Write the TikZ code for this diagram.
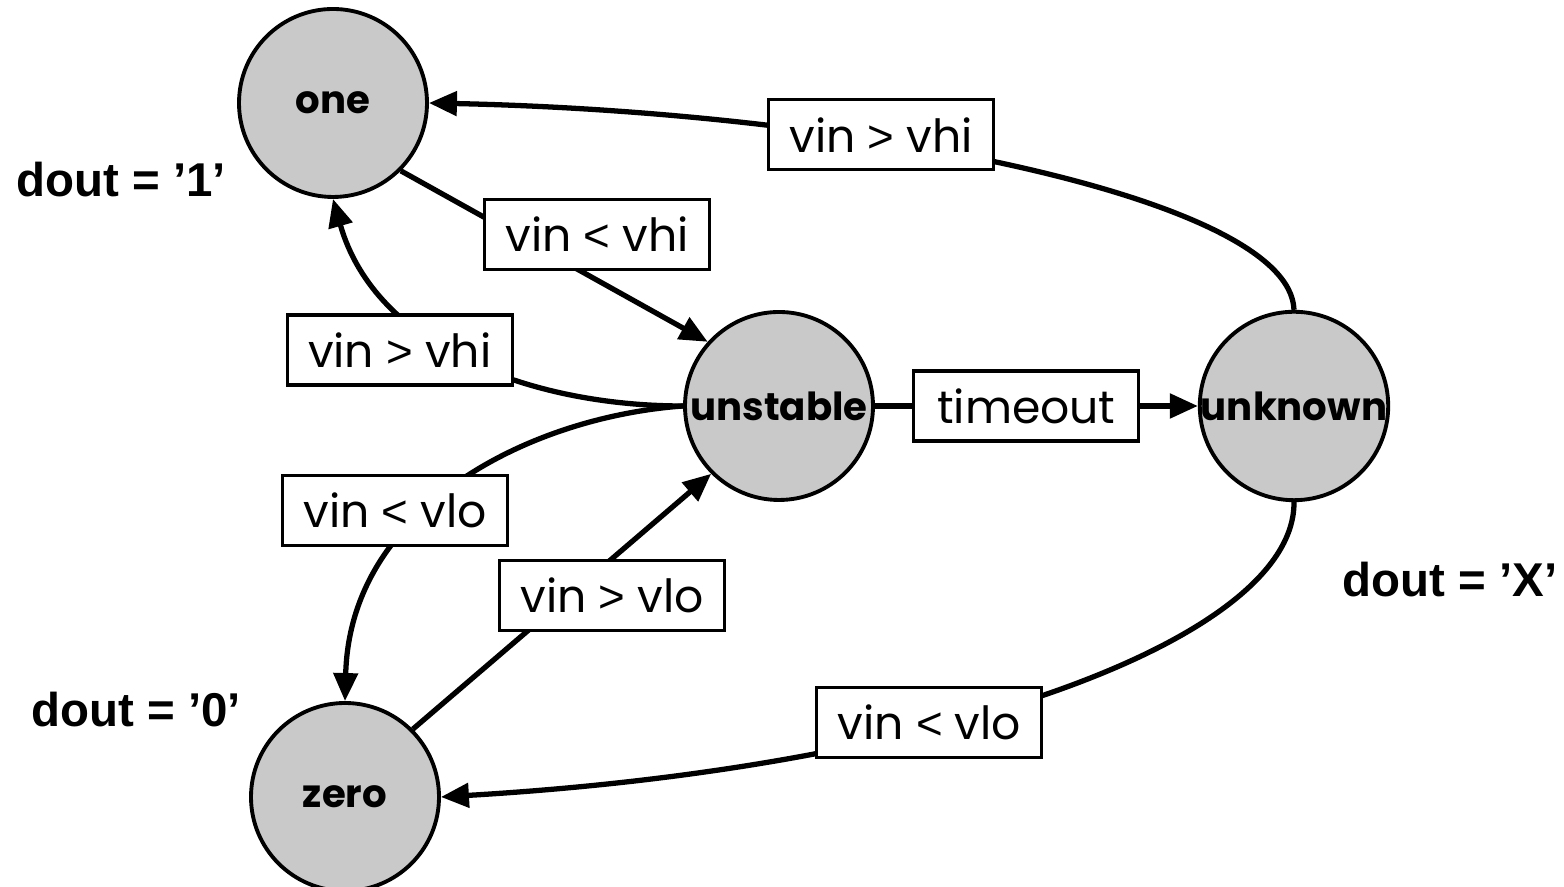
\documentclass[tikz,border=0pt]{standalone}
\usepackage{fontspec}
\setmainfont{Poppins}
\newfontfamily\doutfont{Liberation Sans}
\newcommand{\cmpgt}{{\doutfont >}}
\newcommand{\cmplt}{{\doutfont <}}
\usepackage{tikz}
\usetikzlibrary{positioning, arrows.meta}
\definecolor{stategrey}{HTML}{C9C9C9}

\begin{document}
\begin{tikzpicture}[
    state/.style={circle, draw, line width=1.1pt, fill=stategrey,
                  minimum size=1.88cm, inner sep=0pt,
                  font=\fontsize{11}{13}\selectfont\bfseries},
    cond/.style={rectangle, draw, line width=0.9pt, fill=white,
                 minimum width=2.25cm, minimum height=0.7cm,
                 font=\fontsize{13}{15}\selectfont},
    outlbl/.style={font=\doutfont\fontsize{13.5}{15}\selectfont\bfseries},
    arrow/.style={-{Triangle[length=0.28cm, width=0.24cm]}, line width=1.5pt},
]
\useasboundingbox (0,0) rectangle (15.64,8.87);

% ============== states ==============
\node[state] (one) at (3.33,7.84) {one};
\node[state] (unstable) at (7.79,4.81) {unstable};
\node[state] (unknown) at (12.94,4.81) {unknown};
\node[state] (zero) at (3.45,0.90) {zero};

% ============== outputs ==============
\node[outlbl] (dout1) at (1.21,7.07) {dout = ’1’};
\node[outlbl] (dout0) at (1.36,1.77) {dout = ’0’};
\node[outlbl] (doutX) at (14.50,3.07) {dout = ’X’};

% ============== transitions ==============
\draw[arrow] (unknown.north) .. controls (12.9,6.9) and (8.5,7.75) .. (one.east)
    node[cond, pos=0.63, yshift=0.07cm] (c1) {vin \cmpgt{} vhi};
\draw[arrow] (one.-45) -- (unstable.138)
    node[cond, pos=0.64, yshift=0.46cm] (c2) {vin \cmplt{} vhi};
\draw[arrow] (unstable.west) .. controls (5.3,4.81) and (3.75,5.4) .. (one.south)
    node[cond, pos=0.65, xshift=-0.14cm, yshift=-0.27cm] (c3) {vin \cmpgt{} vhi};
\draw[arrow] (unstable) -- (unknown)
    node[cond, midway, xshift=-0.1cm] (c4) {timeout};
\draw[arrow] (unstable.west) .. controls (5.3,4.7) and (3.5,3.8) .. (zero.north)
    node[cond, pos=0.6, xshift=-0.27cm, yshift=0.06cm] (c5) {vin \cmplt{} vlo};
\draw[arrow] (zero.45) -- (unstable.225)
    node[cond, pos=0.668, yshift=-0.37cm] (c6) {vin \cmpgt{} vlo};
\draw[arrow] (unknown.south) .. controls (12.95,2.5) and (9.5,1.2) .. (zero.east)
    node[cond, pos=0.63, yshift=0.05cm] (c7) {vin \cmplt{} vlo};

\end{tikzpicture}
\end{document}
